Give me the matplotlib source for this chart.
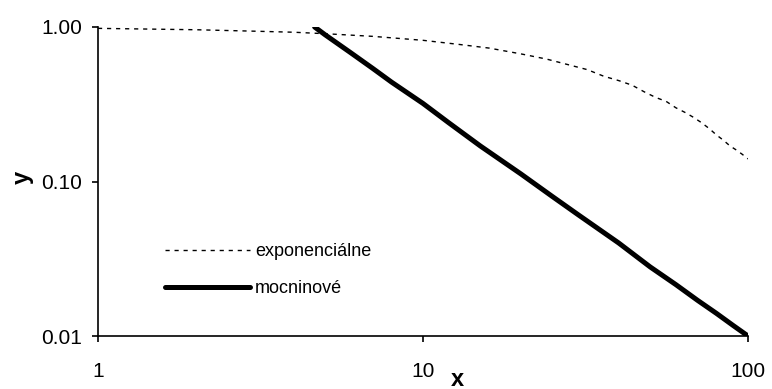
import matplotlib
matplotlib.use("Agg")
import matplotlib.pyplot as plt
from matplotlib.ticker import FixedLocator, NullLocator

plt.rcParams['font.family'] = ['Liberation Sans', 'DejaVu Sans']

# exponential series
exp_x = [1, 2, 3, 4, 5, 7, 10, 13, 16, 20, 24, 28, 32, 36, 40, 44, 48, 52, 56, 60,
         64, 68, 72, 76, 80, 84, 88, 92, 96, 100]
exp_y = [0.98, 0.96, 0.94, 0.925, 0.905, 0.87, 0.82, 0.77, 0.73, 0.67, 0.62, 0.57,
         0.53, 0.48, 0.45, 0.42, 0.38, 0.35, 0.33, 0.30, 0.28, 0.26, 0.24, 0.22,
         0.20, 0.185, 0.17, 0.16, 0.15, 0.14]

# power-law series
pow_x = [4.64, 5, 6, 7, 8, 10, 12, 15, 20, 25, 30, 40, 50, 60, 70, 80, 90, 100]
pow_y = [1.0, 0.89, 0.68, 0.54, 0.44, 0.32, 0.24, 0.17, 0.112, 0.080, 0.061, 0.040,
         0.028, 0.0215, 0.017, 0.014, 0.0117, 0.010]

series_labels = ['exponenciálne', 'mocninové']
x_ticks = [1, 10, 100]
x_tick_labels = ['1', '10', '100']
y_ticks = [0.01, 0.1, 1.0]
y_tick_labels = ['0.01', '0.10', '1.00']

fig = plt.figure(figsize=(7.72, 3.89), dpi=100)
ax = fig.add_axes([98/772, 1-336/389, (748-98)/772, (336-27)/389])

ax.plot(exp_x, exp_y, color='black', lw=1.0, linestyle=(0, (3, 3.5)), label=series_labels[0])
ax.plot(pow_x, pow_y, color='black', lw=3.6, solid_capstyle='round', label=series_labels[1])

ax.set_xscale('log')
ax.set_yscale('log')
ax.set_xlim(1, 100)
ax.set_ylim(0.01, 1.0)
ax.xaxis.set_major_locator(FixedLocator(x_ticks))
ax.yaxis.set_major_locator(FixedLocator(y_ticks))
ax.xaxis.set_minor_locator(NullLocator())
ax.yaxis.set_minor_locator(NullLocator())
ax.set_xticklabels(x_tick_labels)
ax.set_yticklabels(y_tick_labels)
ax.tick_params(axis='both', direction='out', length=4.5, width=1.2, labelsize=15)
ax.tick_params(axis='y', pad=7)
ax.tick_params(axis='x', pad=14)

for s in ['top', 'right']:
    ax.spines[s].set_visible(False)
for s in ['left', 'bottom']:
    ax.spines[s].set_linewidth(1.2)

fig.text(457/772, 1-379/389, 'x', fontsize=17, fontweight='bold', ha='center', va='center')
fig.text(22/772, 1-177/389, 'y', fontsize=17, fontweight='bold', ha='center', va='center', rotation=90)

leg = ax.legend(loc='upper left', bbox_to_anchor=(165/772, 1-243/389), bbox_transform=fig.transFigure,
                frameon=False, fontsize=13, handlelength=4.7, handletextpad=0.3,
                labelspacing=1.1, borderaxespad=0, borderpad=0)

fig.savefig('out.png', dpi=100)
